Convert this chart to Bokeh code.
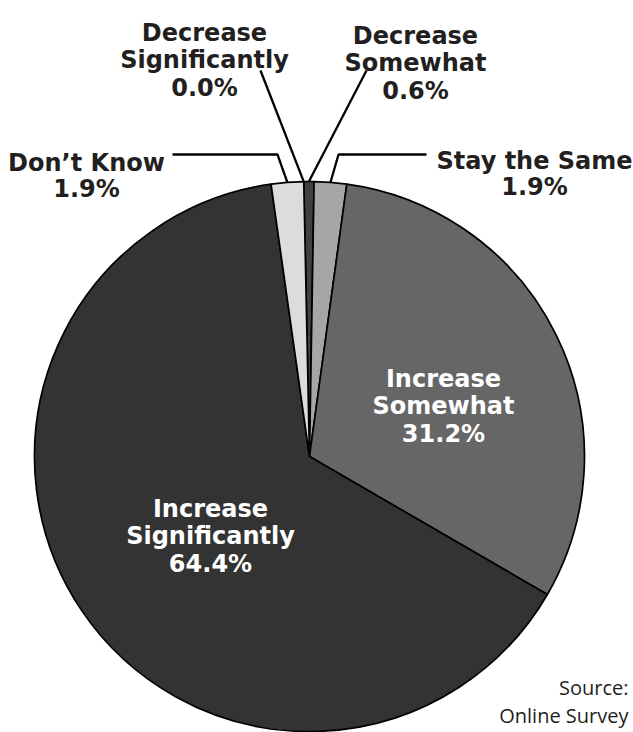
import math
from bokeh.plotting import figure
from bokeh.models import Range1d, ColumnDataSource
from bokeh.core.properties import value
from bokeh.embed import file_html
from bokeh.resources import INLINE

# ---- data (clockwise from the top) ----
categories = ["Decrease Significantly", "Decrease Somewhat", "Stay the Same",
              "Increase Somewhat", "Increase Significantly", "Don\u2019t Know"]
percents = [0.0, 0.6, 1.9, 31.2, 64.4, 1.9]
colors = ["#404040", "#404040", "#a6a6a6", "#666666", "#333333", "#dcdcdc"]
pct_labels = ["0.0%", "0.6%", "1.9%", "31.2%", "64.4%", "1.9%"]

# ---- layout (image pixel coordinates) ----
W, H = 633, 732
CX, CY, R = 309, 456, 275
START_DEG = -1.2  # clockwise offset from 12 o'clock
FONT = value("DejaVu Sans")
SRC_FONT = value("Open Sans")
LABEL_COLOR = "#231f20"

p = figure(width=W, height=H, x_range=Range1d(0, W), y_range=Range1d(-H, 0),
           output_backend="svg", toolbar_location=None, min_border=0)
p.axis.visible = False
p.grid.visible = False
p.outline_line_color = None
p.background_fill_color = "white"
p.border_fill_color = "white"

# angles
total = sum(percents)
theta_start, theta_end = [], []
acc = 0.0
for v in percents:
    t0 = START_DEG + acc / total * 360.0
    acc += v
    t1 = START_DEG + acc / total * 360.0
    theta_start.append(t0)
    theta_end.append(t1)

keep = [i for i, v in enumerate(percents) if v > 0]
src = ColumnDataSource(dict(
    start=[math.pi / 2 - math.radians(theta_start[i]) for i in keep],
    end=[math.pi / 2 - math.radians(theta_end[i]) for i in keep],
    color=[colors[i] for i in keep],
))
p.wedge(x=CX, y=-CY, radius=R, start_angle="start", end_angle="end", direction="clock",
        fill_color="color", line_color="black", line_width=1.7, source=src)

def rim(i):
    m = math.radians((theta_start[i] + theta_end[i]) / 2.0)
    return CX + R * math.sin(m), CY - R * math.cos(m)

# leader lines for outside labels: elbow points, then rim point
leaders = {
    5: [(172, 154), (277, 154)],
    0: [(260, 70)],
    1: [(366, 70)],
    2: [(426, 154), (338, 154)],
}
for i, pts in leaders.items():
    pts = pts + [rim(i)]
    p.line([q[0] for q in pts], [-q[1] for q in pts], line_color="black", line_width=2.3)

# labels: (index, center x, first baseline, words, color)
label_pos = [
    (0, 204, 32, ["Decrease", "Significantly"], LABEL_COLOR),
    (1, 415, 35, ["Decrease", "Somewhat"], LABEL_COLOR),
    (2, 534, 160, ["Stay the Same"], LABEL_COLOR),
    (5, 86, 162, ["Don\u2019t Know"], LABEL_COLOR),
    (3, 443, 378, ["Increase", "Somewhat"], "white"),
    (4, 210, 508, ["Increase", "Significantly"], "white"),
]
for i, x, y0, words, col in label_pos:
    lines = words + [pct_labels[i]]
    lh = 26.5 if len(lines) == 2 else 27.5
    xs = [x] * len(lines)
    ys = [-(y0 + k * lh) for k in range(len(lines))]
    p.text(x=xs, y=ys, text=lines, text_font=FONT, text_font_style="bold",
           text_font_size="24px", text_align="center", text_baseline="alphabetic",
           text_color=col)

p.text(x=[628, 628], y=[-687, -715], text=["Source:", "Online Survey"],
       text_font=SRC_FONT, text_font_size="20px", text_align="right",
       text_baseline="alphabetic", text_color=LABEL_COLOR)

open("out.html", "w").write(file_html(p, INLINE))
